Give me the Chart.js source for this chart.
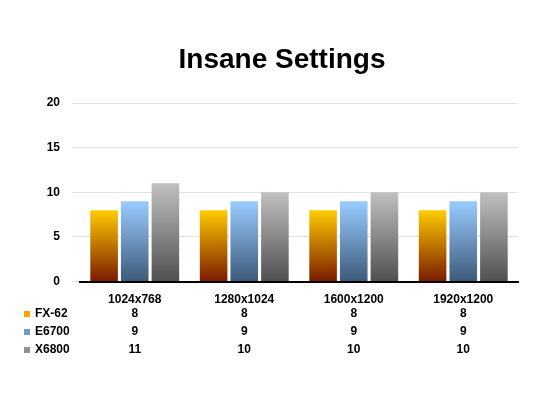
<!DOCTYPE html>
<html>
<head>
<meta charset="utf-8">
<script src="https://cdn.jsdelivr.net/npm/chart.js@4"></script>
<style>
    body { margin: 0; background: #fff; }
    #wrap { width: 550px; height: 411px; }
</style>
</head>
<body>
<div id="wrap"><canvas id="chart"></canvas></div>
<script>
var categories = ["1024x768", "1280x1024", "1600x1200", "1920x1200"];
var seriesNames = ["FX-62", "E6700", "X6800"];
var fx62 = [8, 8, 8, 8];
var e6700 = [9, 9, 9, 9];
var x6800 = [11, 10, 10, 10];
var yTicks = [0, 5, 10, 15, 20];
var titleText = "Insane Settings";

// top colour, bottom colour for each series
var gradStops = [
    ["#ffcc00", "#7a1a00"],
    ["#99ccff", "#3d5a7a"],
    ["#c0c0c0", "#505050"]
];
var swatch = ["#f0a800", "#6f9cc8", "#909090"];

function grad(idx) {
    return function (ctx) {
        var area = ctx.chart.chartArea;
        if (!area) { return gradStops[idx][0]; }
        var y = ctx.chart.scales.y;
        var g = ctx.chart.ctx.createLinearGradient(0, y.getPixelForValue(ctx.raw), 0, area.bottom);
        g.addColorStop(0, gradStops[idx][0]);
        g.addColorStop(1, gradStops[idx][1]);
        return g;
    };
}

// title and data table below the axis
var extras = {
    id: "extras",
    afterDraw: function (chart) {
        var c = chart.ctx, x = chart.scales.x;
        var rows = [fx62, e6700, x6800];
        c.save();
        c.fillStyle = "#000";
        c.textBaseline = "middle";
        c.textAlign = "center";
        c.font = "bold 28px 'Liberation Sans', Arial";
        c.fillText(titleText, 282, 60);
        c.font = "bold 12px 'Liberation Sans', Arial";
        rows.forEach(function (vals, r) {
            var yy = 314 + r * 18;
            c.fillStyle = swatch[r];
            c.fillRect(24, yy - 3, 6, 6);
            c.fillStyle = "#000";
            c.textAlign = "left";
            c.fillText(seriesNames[r], 35, yy);
            c.textAlign = "center";
            vals.forEach(function (v, i) {
                c.fillText(String(v), x.getPixelForValue(i), yy);
            });
        });
        c.restore();
    }
};

new Chart(document.getElementById("chart"), {
    type: "bar",
    data: {
        labels: categories,
        datasets: [
            { label: seriesNames[0], data: fx62, backgroundColor: grad(0) },
            { label: seriesNames[1], data: e6700, backgroundColor: grad(1) },
            { label: seriesNames[2], data: x6800, backgroundColor: grad(2) }
        ]
    },
    options: {
        responsive: true,
        maintainAspectRatio: false,
        animation: false,
        layout: { padding: { left: 0, right: 32, top: 103, bottom: 101 } },
        datasets: { bar: { categoryPercentage: 0.84, barPercentage: 0.9 } },
        plugins: {
            legend: { display: false },
            tooltip: { enabled: false },
            title: { display: false }
        },
        scales: {
            x: {
                grid: { display: false },
                border: { color: "#000", width: 2 },
                ticks: { color: "#000", font: { family: "'Liberation Sans', Arial", size: 12, weight: "bold" } }
            },
            y: {
                min: 0,
                max: 20,
                afterBuildTicks: function (s) { s.ticks = yTicks.map(function (v) { return { value: v }; }); },
                afterFit: function (s) { s.width = 80; },
                grid: { color: "#e0e0e0" },
                border: { display: false },
                ticks: { color: "#000", padding: 12, font: { family: "'Liberation Sans', Arial", size: 12, weight: "bold" } }
            }
        }
    },
    plugins: [extras]
});
</script>
</body>
</html>
